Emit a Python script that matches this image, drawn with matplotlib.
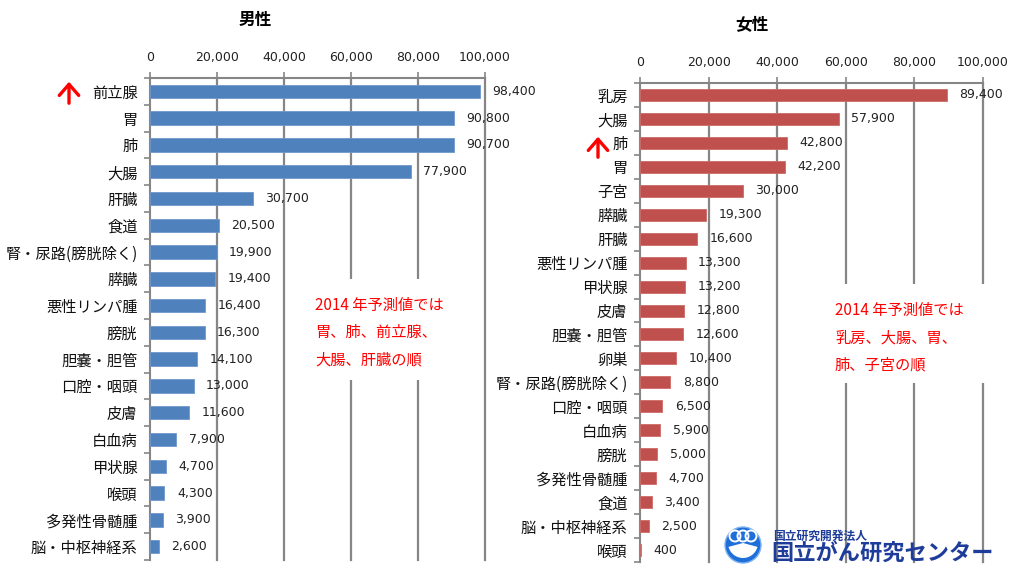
import matplotlib
matplotlib.use("Agg")
import matplotlib.pyplot as plt
from matplotlib.patches import Rectangle, Circle, Wedge, FancyArrowPatch
import numpy as np

plt.rcParams['font.family'] = ['Noto Sans CJK JP', 'DejaVu Sans']

male_sites = ["前立腺", "胃", "肺", "大腸", "肝臓", "食道", "腎・尿路(膀胱除く)", "膵臓",
              "悪性リンパ腫", "膀胱", "胆嚢・胆管", "口腔・咽頭", "皮膚", "白血病", "甲状腺",
              "喉頭", "多発性骨髄腫", "脳・中枢神経系"]
male_values = [98400, 90800, 90700, 77900, 30700, 20500, 19900, 19400, 16400, 16300,
               14100, 13000, 11600, 7900, 4700, 4300, 3900, 2600]

female_sites = ["乳房", "大腸", "肺", "胃", "子宮", "膵臓", "肝臓", "悪性リンパ腫", "甲状腺",
                "皮膚", "胆嚢・胆管", "卵巣", "腎・尿路(膀胱除く)", "口腔・咽頭", "白血病",
                "膀胱", "多発性骨髄腫", "食道", "脳・中枢神経系", "喉頭"]
female_values = [89400, 57900, 42800, 42200, 30000, 19300, 16600, 13300, 13200, 12800,
                 12600, 10400, 8800, 6500, 5900, 5000, 4700, 3400, 2500, 400]

x_ticks = [0, 20000, 40000, 60000, 80000, 100000]
male_note = "2014 年予測値では\n胃、肺、前立腺、\n大腸、肝臓の順"
female_note = "2014 年予測値では\n乳房、大腸、胃、\n肺、子宮の順"

W, H = 1024, 574
fig = plt.figure(figsize=(W / 100, H / 100), dpi=100)
fig.patch.set_facecolor('white')

grid_c = '#868686'


def px_rect(x0, y_top, x1, y_bot):
    return [x0 / W, 1 - y_bot / H, (x1 - x0) / W, (y_bot - y_top) / H]


def draw_panel(rect, sites, values, color, edge, gap_rect):
    ax = fig.add_axes(rect)
    n = len(sites)
    y = np.arange(n)
    ax.barh(y, values, height=0.5, color=color, edgecolor=edge, linewidth=0.6, zorder=3)
    ax.set_xlim(0, 100000)
    ax.set_ylim(n - 0.5, -0.5)
    ax.xaxis.tick_top()
    ax.set_xticks(x_ticks)
    ax.set_xticklabels([f"{v:,}" for v in x_ticks], fontsize=9, color='#222222',
                       family='DejaVu Sans')
    ax.tick_params(axis='x', length=4, width=1.2, color=grid_c, pad=6)
    ax.set_yticks(y)
    ax.set_yticklabels(sites, fontsize=11, color='#111111')
    ax.tick_params(axis='y', which='major', length=0, pad=9)
    ax.set_yticks(np.arange(n + 1) - 0.5, minor=True)
    ax.tick_params(axis='y', which='minor', length=4, width=1.2, color=grid_c)
    for s in ['right', 'bottom']:
        ax.spines[s].set_visible(False)
    for s in ['top', 'left']:
        ax.spines[s].set_color(grid_c)
        ax.spines[s].set_linewidth(1.5)
    for xv in x_ticks[1:]:
        ax.axvline(xv, color=grid_c, linewidth=1.6, zorder=1, clip_on=False)
    ax.add_patch(Rectangle((gap_rect[0], gap_rect[1]), gap_rect[2], gap_rect[3],
                           transform=ax.transAxes, facecolor='white', edgecolor='none',
                           zorder=2, clip_on=False))
    for yi, v in zip(y, values):
        ax.annotate(f"{v:,}", (v, yi), xytext=(9, 0), textcoords='offset points',
                    va='center', ha='left', fontsize=9, color='#222222',
                    family='DejaVu Sans', zorder=4, annotation_clip=False)
    return ax


axL = draw_panel(px_rect(150, 78, 485, 560), male_sites, male_values,
                 '#4F81BD', '#6F98CC', (0.445, 0.373, 0.51, 0.21))
axR = draw_panel(px_rect(640, 83, 983, 562), female_sites, female_values,
                 '#C0504D', '#CD6B68', (0.54, 0.374, 0.48, 0.206))

# titles
fig.text(255 / W, 1 - 20 / H, "男性", fontsize=12, fontweight='bold', ha='center', va='center')
fig.text(752 / W, 1 - 25 / H, "女性", fontsize=12, fontweight='bold', ha='center', va='center')

# notes
fig.text(315 / W, 1 - 297 / H, male_note, fontsize=11, color='#FF0000', ha='left', va='top',
         linespacing=1.78)
fig.text(835 / W, 1 - 302 / H, female_note, fontsize=11, color='#FF0000', ha='left', va='top',
         linespacing=1.78)

# red arrows
for (x, y0, y1) in [(69, 106, 79), (598, 160, 134)]:
    fig.add_artist(FancyArrowPatch(
        (x / W, 1 - y0 / H), (x / W, 1 - y1 / H), transform=fig.transFigure,
        arrowstyle='->,head_width=3.5,head_length=4', color='#FF0000', linewidth=2.4,
        mutation_scale=2))

# logo
lax = fig.add_axes([0, 0, 1, 1], zorder=10)
lax.set_xlim(0, W)
lax.set_ylim(H, 0)
lax.axis('off')
lax.add_patch(Circle((743, 545), 18, facecolor='#1E6FD9', edgecolor='#7FB4F0', linewidth=1))
lax.add_patch(Wedge((743, 543), 15, 15, 165, facecolor='white', edgecolor='none'))
for cx in (735, 743, 751):
    lax.add_patch(Circle((cx, 536), 5.5, facecolor='none', edgecolor='white', linewidth=1.4))
lax.text(773, 536, "国立研究開発法人", fontsize=8.5, color='#1E3C9A', va='center', ha='left',
         fontweight='bold')
lax.text(771, 553, "国立がん研究センター", fontsize=16, color='#1E3C9A', va='center', ha='left',
         fontweight='bold')

fig.savefig("out.png", dpi=100, facecolor='white')
